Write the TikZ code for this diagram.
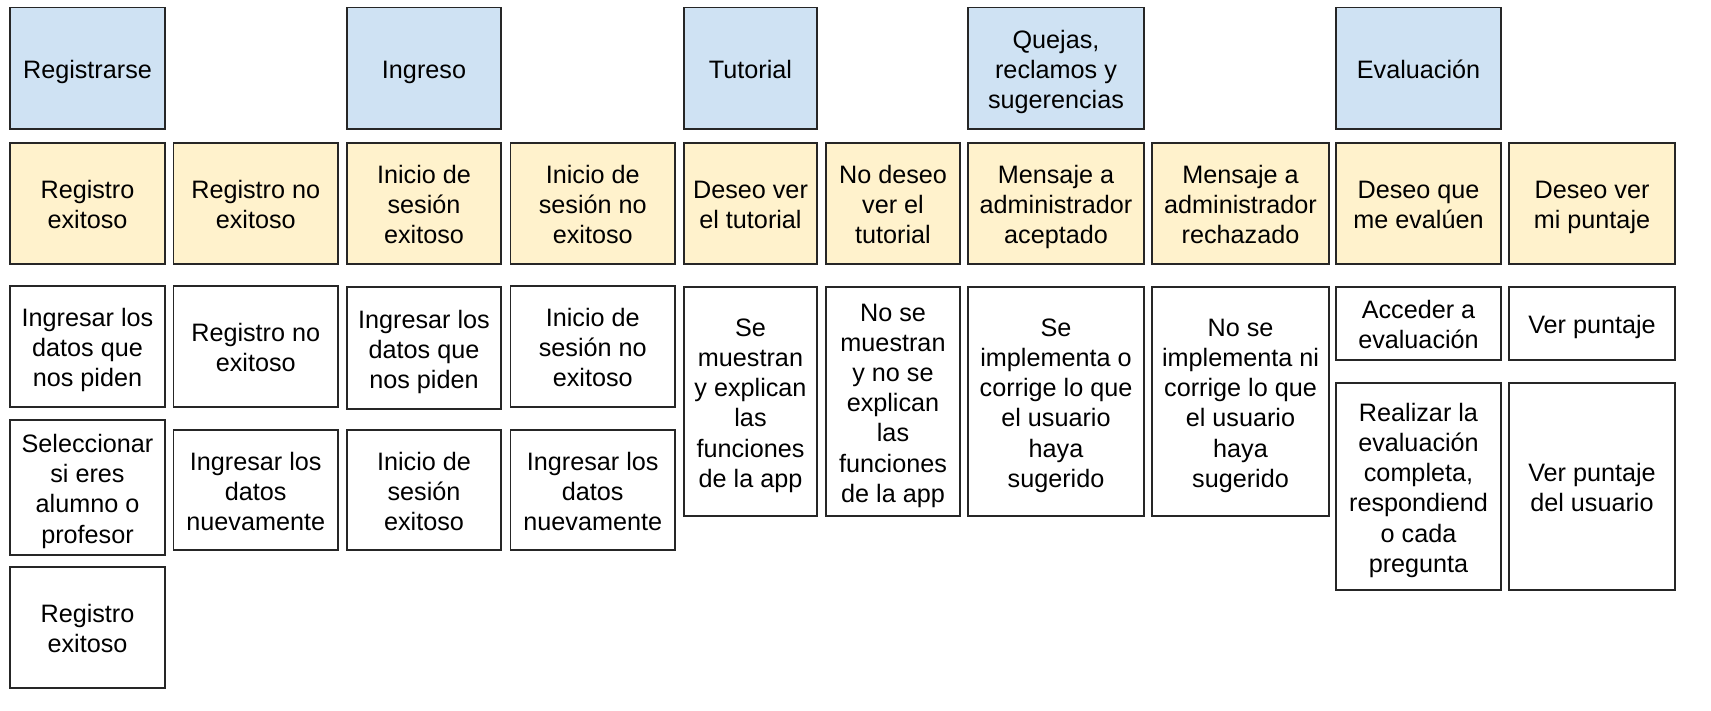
\documentclass[tikz,border=0pt]{standalone}
\usepackage{fontspec}
\setmainfont{Liberation Sans}
\definecolor{hdrblue}{HTML}{CFE2F3}
\definecolor{hdryellow}{HTML}{FFF2CC}
\definecolor{edgecol}{HTML}{262626}
\newcommand{\mybx}[7]{%
  \pgfmathsetmacro{\cxx}{(#2+#4)/2}%
  \pgfmathsetmacro{\cyy}{(#3+#5)/2}%
  \pgfmathsetmacro{\wdd}{#4-#2}%
  \pgfmathsetmacro{\htt}{#5-#3}%
  \node[cellbox,#6,minimum width=\wdd pt,minimum height=\htt pt] (#1) at (\cxx,\cyy) {};%
  \node[celltext] (#1t) at ([yshift=-4.2pt]#1.center) {\strut #7\strut};%
}
\begin{document}
\begin{tikzpicture}[x=1pt,y=-1pt,
  cellbox/.style={draw=edgecol,line width=1.3pt,inner sep=0pt},
  celltext/.style={inner sep=0pt,align=center,
    font=\fontsize{25.2}{30.2}\selectfont,text=black},
  bluebox/.style={fill=hdrblue},
  yelbox/.style={fill=hdryellow},
  whitebox/.style={fill=white}]
\useasboundingbox (0,0) rectangle (1711,710);
% column 1
\mybx{c1h}{10}{7.6}{165}{129}{bluebox}{Registrarse}
\mybx{c1y}{10}{143}{165}{264}{yelbox}{Registro\\exitoso}
\mybx{c1a}{10}{286}{165}{407}{whitebox}{Ingresar los\\datos que\\nos piden}
\mybx{c1b}{10}{420}{165}{555}{whitebox}{Seleccionar\\si eres\\alumno o\\profesor}
\mybx{c1c}{10}{567}{165}{688}{whitebox}{Registro\\exitoso}
% column 2
\mybx{c2y}{173.5}{143}{338}{264}{yelbox}{Registro no\\exitoso}
\mybx{c2a}{173.5}{286}{338}{407}{whitebox}{Registro no\\exitoso}
\mybx{c2b}{173.5}{430}{338}{550}{whitebox}{Ingresar los\\datos\\nuevamente}
% column 3
\mybx{c3h}{347}{7.6}{501}{129}{bluebox}{Ingreso}
\mybx{c3y}{347}{143}{501}{264}{yelbox}{Inicio de\\sesión\\exitoso}
\mybx{c3a}{347}{287}{501}{409}{whitebox}{Ingresar los\\datos que\\nos piden}
\mybx{c3b}{347}{430}{501}{550}{whitebox}{Inicio de\\sesión\\exitoso}
% column 4
\mybx{c4y}{510.5}{143}{675}{264}{yelbox}{Inicio de\\sesión no\\exitoso}
\mybx{c4a}{510.5}{286}{675}{407}{whitebox}{Inicio de\\sesión no\\exitoso}
\mybx{c4b}{510.5}{430}{675}{550}{whitebox}{Ingresar los\\datos\\nuevamente}
% column 5
\mybx{c5h}{684}{7.6}{817}{129}{bluebox}{Tutorial}
\mybx{c5y}{684}{143}{817}{264}{yelbox}{Deseo ver\\el tutorial}
\mybx{c5a}{684}{287}{817}{516}{whitebox}{Se\\muestran\\y explican\\las\\funciones\\de la app}
% column 6
\mybx{c6y}{826}{143}{960}{264}{yelbox}{No deseo\\ver el\\tutorial}
\mybx{c6a}{826}{287}{960}{516}{whitebox}{No se\\muestran\\y no se\\explican\\las\\funciones\\de la app}
% column 7
\mybx{c7h}{968}{7.6}{1144}{129}{bluebox}{Quejas,\\reclamos y\\sugerencias}
\mybx{c7y}{968}{143}{1144}{264}{yelbox}{Mensaje a\\administrador\\aceptado}
\mybx{c7a}{968}{287}{1144}{516}{whitebox}{Se\\implementa o\\corrige lo que\\el usuario\\haya\\sugerido}
% column 8
\mybx{c8y}{1152}{143}{1329}{264}{yelbox}{Mensaje a\\administrador\\rechazado}
\mybx{c8a}{1152}{287}{1329}{516}{whitebox}{No se\\implementa ni\\corrige lo que\\el usuario\\haya\\sugerido}
% column 9
\mybx{c9h}{1336}{7.6}{1501}{129}{bluebox}{Evaluación}
\mybx{c9y}{1336}{143}{1501}{264}{yelbox}{Deseo que\\me evalúen}
\mybx{c9a}{1336}{287}{1501}{360}{whitebox}{Acceder a\\evaluación}
\mybx{c9b}{1336}{383}{1501}{590}{whitebox}{Realizar la\\evaluación\\completa,\\respondiend\\o cada\\pregunta}
% column 10
\mybx{c10y}{1509}{143}{1675}{264}{yelbox}{Deseo ver\\mi puntaje}
\mybx{c10a}{1509}{287}{1675}{360}{whitebox}{Ver puntaje}
\mybx{c10b}{1509}{383}{1675}{590}{whitebox}{Ver puntaje\\del usuario}
\end{tikzpicture}
\end{document}
